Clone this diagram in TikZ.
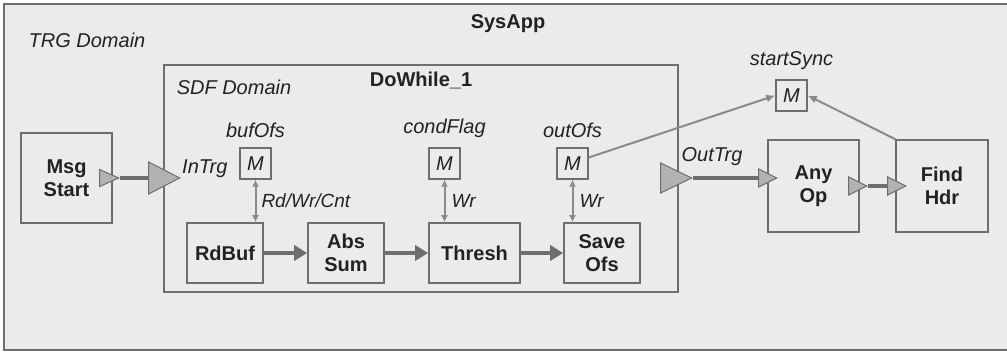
\documentclass[tikz,border=0pt]{standalone}
\usepackage{fontspec}
\setmainfont{Liberation Sans}
\usetikzlibrary{arrows.meta,shapes.geometric}

\definecolor{paper}{HTML}{EBEBEB}
\definecolor{edge}{HTML}{6E6E6E}
\definecolor{wire}{HTML}{8A8A8A}
\definecolor{portfill}{HTML}{B2B2B2}
\definecolor{ink}{HTML}{222222}

\tikzset{
	block/.style={draw=edge, line width=1.6pt, fill=paper, text=ink, align=center,
		inner sep=0pt, font=\bfseries\fontsize{20}{23}\selectfont},
	mem/.style={draw=edge, line width=1.4pt, minimum size=31pt, inner sep=0pt,
		text=ink, font=\itshape\fontsize{20}{22}\selectfont},
	lbl/.style={text=ink, inner sep=0pt, font=\itshape\fontsize{20}{22}\selectfont},
	acc/.style={text=ink, inner sep=0pt, font=\itshape\fontsize{19}{21}\selectfont},
	title/.style={text=ink, inner sep=0pt, font=\bfseries\fontsize{20}{22}\selectfont},
	port/.style={isosceles triangle, isosceles triangle stretches, draw=edge,
		line width=1pt, fill=portfill, inner sep=0pt},
	flow/.style={draw=edge, line width=4pt, -{Triangle[length=13pt,width=15pt]}},
	link/.style={draw=edge, line width=4pt},
	access/.style={draw=wire, line width=2pt, {Latex[length=7pt,width=7pt]}-{Latex[length=7pt,width=7pt]}},
	sync/.style={draw=wire, line width=2pt, -{Latex[length=9pt,width=8pt]}}
}

\begin{document}
\begin{tikzpicture}[x=1pt,y=-1pt]
	\useasboundingbox (0,0) rectangle (1007,352);

	% frames
	\fill[paper] (4,4) rectangle (1012,350);
	\draw[edge, line width=1.8pt] (1012,4) -- (4,4) -- (4,350) -- (1012,350);
	\draw[edge, line width=1.8pt] (164,65) rectangle (678,292);

	\node[lbl] (trg) at (87,40) {TRG Domain};
	\node[title] (sysapp) at (508,24) {SysApp};
	\node[lbl] (sdf) at (234,87) {SDF Domain};
	\node[title] (dowhile) at (421,80) {DoWhile\_1};

	% blocks
	\node[block, minimum width=91pt, minimum height=90pt] (msgstart) at (66.5,178) {Msg\\Start};
	\node[block, minimum width=76pt, minimum height=60pt] (rdbuf) at (225,253) {RdBuf};
	\node[block, minimum width=76pt, minimum height=60pt] (abssum) at (346,253) {Abs\\Sum};
	\node[block, minimum width=91pt, minimum height=60pt] (thresh) at (474.5,253) {Thresh};
	\node[block, minimum width=76pt, minimum height=60pt] (saveofs) at (602,253) {Save\\Ofs};
	\node[block, minimum width=91pt, minimum height=92pt] (anyop) at (813.5,186) {Any\\Op};
	\node[block, minimum width=92pt, minimum height=92pt] (findhdr) at (942,186) {Find\\Hdr};

	% memories
	\node[mem] (bufofs) at (255.5,163.5) {M};
	\node[mem] (condflag) at (444.5,163.5) {M};
	\node[mem] (outofs) at (572.5,163.5) {M};
	\node[mem] (startsync) at (791.5,95.5) {M};
	\node[lbl, anchor=south] (bufofslbl) at ([yshift=9pt]bufofs.north) {bufOfs};
	\node[lbl, anchor=south] (condflaglbl) at ([yshift=9pt]condflag.north) {condFlag};
	\node[lbl, anchor=south] (outofslbl) at ([yshift=9pt]outofs.north) {outOfs};
	\node[lbl, anchor=south] (startsynclbl) at ([yshift=9pt]startsync.north) {startSync};

	% ports
	\node[port, minimum width=17pt, minimum height=19pt, anchor=apex] (msgout) at (120,178) {};
	\node[port, minimum width=32pt, minimum height=31pt, anchor=apex] (intrg) at (181,178) {};
	\node[port, minimum width=30pt, minimum height=31pt, anchor=apex] (outtrg) at (693,178) {};
	\node[port, minimum width=18pt, minimum height=18pt, anchor=apex] (anyopin) at (778,178) {};
	\node[port, minimum width=18pt, minimum height=18pt, anchor=apex] (anyopout) at (868,186) {};
	\node[port, minimum width=18pt, minimum height=18pt, anchor=apex] (findhdrin) at (907,186) {};
	\node[lbl, anchor=west] (intrglbl) at (182,169) {InTrg};
	\node[lbl] (outtrglbl) at (712,157) {OutTrg};

	% connections
	\draw[link] (msgout.apex) -- (intrg.west);
	\draw[link] (outtrg.apex) -- (anyopin.west);
	\draw[link] (anyopout.apex) -- (findhdrin.west);
	\draw[flow] (rdbuf) -- (abssum);
	\draw[flow] (abssum) -- (thresh);
	\draw[flow] (thresh) -- (saveofs);

	\draw[access] (bufofs.south) -- (bufofs.south |- rdbuf.north) node[acc, midway, right=5pt] (rwc) {Rd/Wr/Cnt};
	\draw[access] (condflag.south) -- (condflag.south |- thresh.north) node[acc, midway, right=6pt] (wr1) {Wr};
	\draw[access] (outofs.south) -- (outofs.south |- saveofs.north) node[acc, midway, right=6pt] (wr2) {Wr};

	\coordinate (outofstap) at ([yshift=6pt]outofs.east);
	\draw[sync] (outofstap) -- (startsync.west);
	\draw[sync] (findhdr.north west) -- (startsync.east);

\end{tikzpicture}
\end{document}
